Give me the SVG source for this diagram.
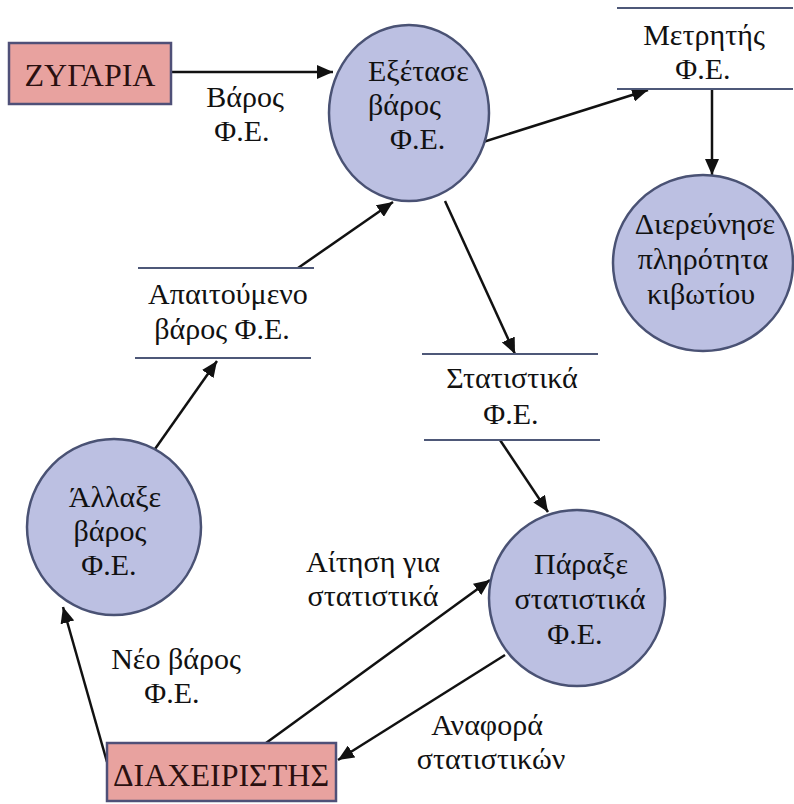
<svg xmlns="http://www.w3.org/2000/svg" width="794" height="804" viewBox="0 0 794 804">
<style>
.proc{fill:#BCC0E2;stroke:#4A5274;stroke-width:2.5}
.ext{fill:#E8A29F;stroke:#4F5078;stroke-width:2.5}
.store{stroke:#4E5878;stroke-width:2.2}
.flow{stroke:#111;stroke-width:2.5;fill:none;marker-end:url(#ah)}
text{font-family:'Liberation Serif','DejaVu Serif',serif;font-size:30px;fill:#111}
.c{text-anchor:middle}
.tb{font-size:32px;fill:#2a1010}
</style>
<defs>
<marker id="ah" markerUnits="userSpaceOnUse" markerWidth="18" markerHeight="14" refX="16" refY="7" orient="auto">
<path d="M0,0 L16,7 L0,14 Z" fill="#111"/>
</marker>
</defs>
<rect width="794" height="804" fill="#fff"/>
<g id="connectors">
<line class="flow" x1="171" y1="72" x2="333" y2="72"/>
<line class="flow" x1="480" y1="143" x2="648" y2="90"/>
<line class="flow" x1="712" y1="89" x2="712" y2="175"/>
<line class="flow" x1="445" y1="201" x2="515" y2="354"/>
<line class="flow" x1="298" y1="268" x2="393" y2="202"/>
<line class="flow" x1="155" y1="449" x2="217" y2="361"/>
<line class="flow" x1="500" y1="440" x2="548" y2="512"/>
<line class="flow" x1="107" y1="762" x2="63" y2="607"/>
<line class="flow" x1="266" y1="743" x2="490" y2="580"/>
<line class="flow" x1="505" y1="655" x2="338" y2="760"/>
<text class="c" x="245" y="107">Βάρος</text>
<text class="c" x="242" y="141">Φ.Ε.</text>
<text class="c" x="176" y="669">Νέο βάρος</text>
<text class="c" x="172" y="703">Φ.Ε.</text>
<text class="c" x="373" y="572">Αίτηση για</text>
<text class="c" x="373" y="606">στατιστικά</text>
<text class="c" x="487" y="735">Αναφορά</text>
<text class="c" x="491" y="769">στατιστικών</text>
</g>
<g id="zygaria">
<rect class="ext" x="9" y="43" width="162" height="61"/>
<text class="tb c" x="90" y="86">ΖΥΓΑΡΙΑ</text>
</g>
<g id="diaxeiristis">
<rect class="ext" x="107" y="743" width="229" height="58"/>
<text class="tb c" x="221" y="786">ΔΙΑΧΕΙΡΙΣΤΗΣ</text>
</g>
<g id="exetase">
<ellipse class="proc" cx="409" cy="113" rx="80" ry="88"/>
<text x="368" y="81">Εξέτασε</text>
<text x="368" y="115">βάρος</text>
<text x="390" y="149">Φ.Ε.</text>
</g>
<g id="metritis">
<line class="store" x1="617" y1="8" x2="793" y2="8"/>
<line class="store" x1="617" y1="89" x2="793" y2="89"/>
<text class="c" x="704" y="45">Μετρητής</text>
<text class="c" x="703" y="79">Φ.Ε.</text>
</g>
<g id="dierevnise">
<ellipse class="proc" cx="703" cy="263" rx="90" ry="88"/>
<text class="c" x="705" y="234">Διερεύνησε</text>
<text class="c" x="703" y="269">πληρότητα</text>
<text class="c" x="701" y="304">κιβωτίου</text>
</g>
<g id="apaitoumeno">
<line class="store" x1="138" y1="268" x2="314" y2="268"/>
<line class="store" x1="135" y1="358" x2="311" y2="358"/>
<text class="c" x="228" y="304">Απαιτούμενο</text>
<text class="c" x="222" y="339">βάρος Φ.Ε.</text>
</g>
<g id="statistika">
<line class="store" x1="422" y1="354" x2="598" y2="354"/>
<line class="store" x1="424" y1="440" x2="600" y2="440"/>
<text class="c" x="512" y="388">Στατιστικά</text>
<text class="c" x="511" y="424">Φ.Ε.</text>
</g>
<g id="allaxe">
<ellipse class="proc" cx="114" cy="527" rx="87" ry="88"/>
<text class="c" x="115" y="507">Άλλαξε</text>
<text class="c" x="110" y="541">βάρος</text>
<text class="c" x="109" y="575">Φ.Ε.</text>
</g>
<g id="paraxe">
<ellipse class="proc" cx="577" cy="598" rx="88" ry="88"/>
<text class="c" x="581" y="574">Πάραξε</text>
<text class="c" x="580" y="609">στατιστικά</text>
<text class="c" x="575" y="644">Φ.Ε.</text>
</g>
</svg>
